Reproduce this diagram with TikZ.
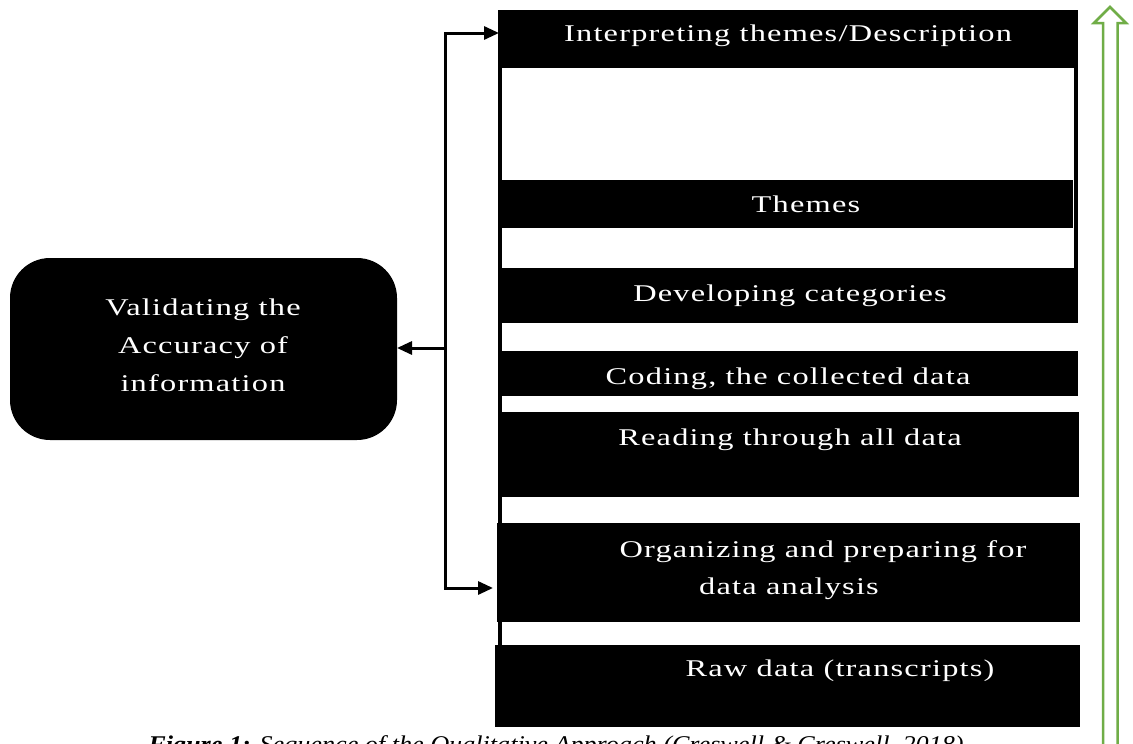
\documentclass[tikz,border=0pt]{standalone}
\usepackage{fontspec}
\setmainfont{Liberation Serif}[FakeStretch=1.35,LetterSpace=5]
\newfontfamily\capfont{Liberation Serif}[FakeStretch=1.09]
\usetikzlibrary{arrows.meta}
\definecolor{arrowgreen}{HTML}{70AD47}
\begin{document}
\begin{tikzpicture}[x=1pt,y=-1pt,
  stage/.style={fill=black, draw=none, inner sep=0pt, outer sep=0pt},
  txt/.style={text=white, font=\fontsize{24}{36}\selectfont, inner sep=0pt, anchor=base},
  conn/.style={line width=3pt, black},
  arr/.style={conn, -{Triangle[length=15pt,width=13pt]}},
  frameline/.style={line width=3.5pt, black},
  garrow/.style={draw=arrowgreen, line width=2.5pt, fill=white, line join=miter}
]
\useasboundingbox (0,0) rectangle (1133,744);
\clip (0,0) rectangle (1133,744);
\fill[white] (0,0) rectangle (1133,744);

% frame lines
\draw[frameline] (500,10) -- (500,727);
\draw[frameline] (1076,10) -- (1076,268);

% stage boxes
\node[stage, minimum width=578, minimum height=58] (interp) at (788,39) {};
\node[stage, minimum width=574, minimum height=48] (themes) at (786,204) {};
\node[stage, minimum width=579, minimum height=55] (dev) at (788.5,295.5) {};
\node[stage, minimum width=579, minimum height=45] (coding) at (788.5,373.5) {};
\node[stage, minimum width=580, minimum height=85] (reading) at (789,454.5) {};
\node[stage, minimum width=583, minimum height=99] (org) at (788.5,572.5) {};
\node[stage, minimum width=585, minimum height=82] (raw) at (787.5,686) {};

% texts
\node[txt] (tinterp) at (788,41) {Interpreting themes/Description};
\node[txt] (tthemes) at (806,212) {Themes};
\node[txt] (tdev) at (790,301) {Developing categories};
\node[txt] (tcoding) at (788,384) {Coding, the collected data};
\node[txt] (treading) at (790,445) {Reading through all data};
\node[txt] (torgA) at (823,557) {Organizing and preparing for};
\node[txt] (torgB) at (789,594) {data analysis};
\node[txt] (traw) at (840,676) {Raw data (transcripts)};

% validating box
\node[stage, rounded corners=40pt, minimum width=387, minimum height=182] (val) at (203.5,349) {};
\node[text=white, font=\fontsize{24}{38}\selectfont, align=center, inner sep=0pt] (tval) at (203,345) {Validating the\\Accuracy of\\information};

% connectors
\coordinate (trunkTop) at (445,33);
\coordinate (trunkMid) at (445,348);
\coordinate (trunkBot) at (445,588);
\draw[conn, line cap=rect] (trunkTop) -- (trunkBot);
\draw[arr] (trunkTop) -- (interp.west |- trunkTop);
\draw[arr] (trunkBot) -- ([xshift=-4pt]org.west |- trunkBot);
\draw[arr] (trunkMid) -- (val.east |- trunkMid);

% green upward arrow
\draw[garrow] (1103,760) -- (1103,23) -- (1094,23) -- (1110,7) -- (1126,23) -- (1117.5,23) -- (1117.5,760);

% caption (cut off at the bottom edge, as in the reference)
\node[anchor=base, inner sep=0pt, font=\capfont\fontsize{24}{28}\selectfont\itshape] (cap) at (556,752) {\textbf{Figure 1:} Sequence of the Qualitative Approach (Creswell \& Creswell, 2018)};
\end{tikzpicture}
\end{document}
